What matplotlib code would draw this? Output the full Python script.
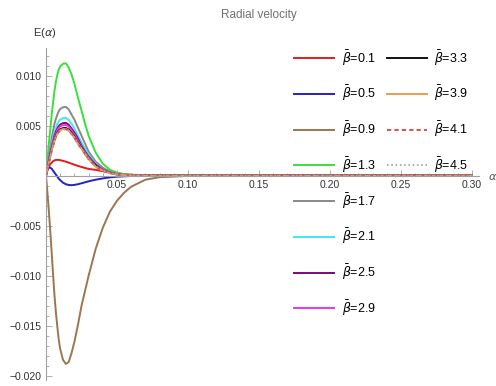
import matplotlib

matplotlib.use("Agg")
import matplotlib.pyplot as plt
from matplotlib.ticker import FixedLocator, MultipleLocator, FuncFormatter

plt.rcParams["font.family"] = ["Liberation Sans", "DejaVu Sans"]
plt.rcParams["mathtext.fontset"] = "dejavusans"

# alpha grid shared by all curves (denser near the extrema)
alpha = [0, 0.0005, 0.001, 0.0015, 0.002, 0.003, 0.004, 0.005, 0.006, 0.007,
         0.008, 0.009, 0.010, 0.012, 0.014, 0.016, 0.018, 0.020, 0.0225, 0.025,
         0.0275, 0.030, 0.035, 0.040, 0.045, 0.050, 0.055, 0.060, 0.070, 0.080,
         0.10, 0.15, 0.20, 0.25, 0.30]

# E(alpha) for each beta-bar value
e_01 = [0, 0.0003, 0.00055, 0.00075, 0.0009, 0.00115, 0.0013, 0.00145, 0.00153, 0.00157,
        0.00158, 0.00157, 0.00155, 0.00148, 0.0014, 0.0013, 0.0012, 0.0011, 0.00098, 0.00087,
        0.00077, 0.00068, 0.00058, 0.00045, 0.00033, 0.00024, 0.00016, 0.0001, 0.00004, 0.00001,
        0, 0, 0, 0, 0]
e_05 = [0, 0.0004, 0.0006, 0.00075, 0.0008, 0.0008, 0.0007, 0.0005, 0.0003, 0.0001,
        -0.0001, -0.0003, -0.00045, -0.0007, -0.00085, -0.00093, -0.00095, -0.00092, -0.00085, -0.00076,
        -0.00066, -0.00056, -0.0004, -0.00027, -0.00017, -0.0001, -0.00006, -0.00003, -0.00001, 0,
        0, 0, 0, 0, 0]
e_09 = [0, -0.0008, -0.0017, -0.0026, -0.0035, -0.0055, -0.0077, -0.0099, -0.0120, -0.0137,
        -0.0151, -0.0164, -0.0173, -0.0184, -0.0188, -0.0186, -0.0177, -0.0166, -0.0149, -0.0130,
        -0.0115, -0.0100, -0.0073, -0.0052, -0.0036, -0.0025, -0.0017, -0.0011, -0.0004, -0.00015,
        -0.00002, 0, 0, 0, 0]
e_13 = [0, 0.0008, 0.0016, 0.0024, 0.0032, 0.0046, 0.0061, 0.0073, 0.0085, 0.0094,
        0.0101, 0.0106, 0.0109, 0.01118, 0.01122, 0.0108, 0.0101, 0.0092, 0.0078, 0.0065,
        0.0052, 0.0040, 0.0023, 0.0012, 0.0006, 0.0003, 0.00015, 0.00007, 0.00002, 0,
        0, 0, 0, 0, 0]
e_17 = [0, 0.0005, 0.0010, 0.0014, 0.0019, 0.0028, 0.0037, 0.0045, 0.0052, 0.0057,
        0.0061, 0.00645, 0.00666, 0.00683, 0.00687, 0.00662, 0.0061, 0.0056, 0.0048, 0.0040,
        0.0032, 0.0024, 0.0014, 0.0008, 0.0004, 0.0002, 0.0001, 0.00004, 0.00001, 0,
        0, 0, 0, 0, 0]
e_21 = [0, 0.0004, 0.0008, 0.0012, 0.0016, 0.0024, 0.0031, 0.0038, 0.0044, 0.0048,
        0.0052, 0.00542, 0.0056, 0.00574, 0.00577, 0.00557, 0.0052, 0.0047, 0.0040, 0.0033,
        0.0027, 0.0021, 0.0012, 0.0006, 0.0003, 0.00016, 0.00008, 0.00003, 0.00001, 0,
        0, 0, 0, 0, 0]
e_25 = [0, 0.0004, 0.0007, 0.0011, 0.0015, 0.0022, 0.0029, 0.0034, 0.0040, 0.0044,
        0.0047, 0.00496, 0.00511, 0.00525, 0.00528, 0.00509, 0.0047, 0.0043, 0.0037, 0.0030,
        0.0024, 0.0019, 0.0011, 0.0006, 0.0003, 0.00014, 0.00007, 0.00003, 0.00001, 0,
        0, 0, 0, 0, 0]
e_29 = [0, 0.0004, 0.0007, 0.0011, 0.0014, 0.0021, 0.0028, 0.0033, 0.0038, 0.0042,
        0.00454, 0.00477, 0.00492, 0.00505, 0.00507, 0.0049, 0.0045, 0.0041, 0.0035, 0.0029,
        0.0023, 0.0018, 0.0010, 0.0006, 0.0003, 0.00014, 0.00007, 0.00003, 0.00001, 0,
        0, 0, 0, 0, 0]
e_33 = [0, 0.0003, 0.0007, 0.0010, 0.0013, 0.0020, 0.0026, 0.0031, 0.0036, 0.0040,
        0.00428, 0.00449, 0.00463, 0.00475, 0.00477, 0.0046, 0.0043, 0.0039, 0.0033, 0.0028,
        0.0022, 0.0017, 0.0010, 0.0005, 0.0003, 0.00013, 0.00006, 0.00003, 0.00001, 0,
        0, 0, 0, 0, 0]
e_39 = [0, 0.0003, 0.0007, 0.0010, 0.0013, 0.0019, 0.0025, 0.0031, 0.0035, 0.0039,
        0.00419, 0.0044, 0.00454, 0.00466, 0.00468, 0.0045, 0.0042, 0.0038, 0.0032, 0.0027,
        0.0022, 0.0017, 0.0009, 0.0005, 0.00026, 0.00013, 0.00006, 0.00003, 0.00001, 0,
        0, 0, 0, 0, 0]
e_41 = [0, 0.0003, 0.0007, 0.0010, 0.0013, 0.0019, 0.0025, 0.0030, 0.0035, 0.0039,
        0.00417, 0.00438, 0.00452, 0.00463, 0.00466, 0.0045, 0.0042, 0.0038, 0.0032, 0.0027,
        0.0022, 0.0017, 0.0009, 0.0005, 0.00026, 0.00013, 0.00006, 0.00003, 0.00001, 0,
        0, 0, 0, 0, 0]
e_45 = [0, 0.0003, 0.0007, 0.0010, 0.0013, 0.0019, 0.0025, 0.0030, 0.0035, 0.0039,
        0.00414, 0.00435, 0.00449, 0.0046, 0.00463, 0.00447, 0.0041, 0.0038, 0.0032, 0.0027,
        0.0021, 0.0016, 0.0009, 0.0005, 0.00026, 0.00012, 0.00006, 0.00003, 0.00001, 0,
        0, 0, 0, 0, 0]

betas = ["0.1", "0.5", "0.9", "1.3", "1.7", "2.1", "2.5", "2.9", "3.3", "3.9", "4.1", "4.5"]
series = [e_01, e_05, e_09, e_13, e_17, e_21, e_25, e_29, e_33, e_39, e_41, e_45]

y_ticks = [-0.020, -0.015, -0.010, -0.005, 0.005, 0.010]
x_ticks = [0.05, 0.10, 0.15, 0.20, 0.25, 0.30]

colors = ["#e21c1c", "#2222c8", "#9c7650", "#3ae03a", "#888888", "#3ee8ee",
          "#760a76", "#ee34ee", "#111111", "#e8a048", "#e05050", "#aaaaaa"]
styles = ["-"] * 10 + [(0, (2.2, 1.6)), (0, (0.8, 1.4))]

fig = plt.figure(figsize=(4.96, 3.86), dpi=100)
ax = fig.add_axes([46 / 496, 1 - 380 / 386, (479 - 46) / 496, (380 - 48) / 386])

lines = []
for beta, vals, c, ls in zip(betas, series, colors, styles):
    (ln,) = ax.plot(alpha, vals, color=c, lw=1.4, ls=ls,
                    label=r"$\bar{\beta}$=" + beta)
    lines.append(ln)

ax.set_xlim(0, 0.305)
ax.set_ylim(-0.0204, 0.01275)

for side in ("top", "right"):
    ax.spines[side].set_visible(False)
ax.spines["bottom"].set_position(("data", 0))
for side in ("left", "bottom"):
    ax.spines[side].set_color("#a0a0a0")
    ax.spines[side].set_linewidth(0.8)

ax.yaxis.set_major_locator(FixedLocator(y_ticks))
ax.yaxis.set_minor_locator(MultipleLocator(0.001))
ax.xaxis.set_major_locator(FixedLocator(x_ticks))
ax.xaxis.set_minor_locator(MultipleLocator(0.01))
ax.yaxis.set_major_formatter(FuncFormatter(lambda v, p: f"{v:.3f}".replace("-", "\u2212")))
ax.xaxis.set_major_formatter(FuncFormatter(lambda v, p: f"{v:.2f}"))
ax.tick_params(which="both", direction="in", color="#a0a0a0", labelsize=7.5,
               labelcolor="#333333", width=0.6)
ax.tick_params(which="major", length=4, pad=3)
ax.tick_params(which="minor", length=2)

fig.text(259 / 496, 1 - 15 / 386, "Radial velocity", ha="center", va="center",
         fontsize=8.5, color="#707070")
fig.text(45 / 496, 1 - 33 / 386, r"E($\alpha$)", ha="center", va="center",
         fontsize=8, color="#333333")
fig.text(488 / 496, 1 - 177 / 386, r"$\alpha$", ha="left", va="center",
         fontsize=8, color="#555555")

leg_kw = dict(frameon=False, fontsize=9, handlelength=3.2, handletextpad=0.6,
              labelspacing=1.3, borderpad=0, borderaxespad=0, columnspacing=0.9,
              loc="upper left", bbox_transform=fig.transFigure)
top = [lines[i] for i in (0, 1, 2, 3, 8, 9, 10, 11)]
leg1 = ax.legend(handles=top, ncol=2, bbox_to_anchor=(294 / 496, 1 - 48 / 386), **leg_kw)
ax.add_artist(leg1)
ax.legend(handles=lines[4:8], bbox_to_anchor=(294 / 496, 1 - 191 / 386), **leg_kw)

fig.savefig("out.png", dpi=100)
